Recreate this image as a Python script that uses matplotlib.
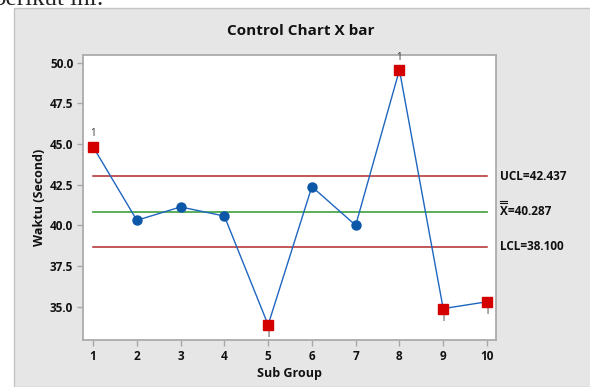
import matplotlib.pyplot as plt
from matplotlib.patches import Rectangle
from matplotlib.transforms import offset_copy

# data
subgroups = [1, 2, 3, 4, 5, 6, 7, 8, 9, 10]
waktu = [44.83, 40.31, 41.13, 40.57, 33.88, 42.38, 40.0, 49.55, 34.88, 35.3]
out_of_control = [1, 5, 8, 9, 10]

# control lines as drawn, and the labels printed next to them
ucl_line = 43.03
mean_line = 40.84
lcl_line = 38.67
ucl_text = 'UCL=42.437'
mean_text = 'X=40.287'
lcl_text = 'LCL=38.100'

plt.rcParams['font.family'] = ['Open Sans', 'DejaVu Sans']

fig = plt.figure(figsize=(5.9, 3.87), dpi=100)
fig.patch.set_facecolor('white')

# gray minitab panel
panel = Rectangle((13.5 / 590, 0), 1.0, (387 - 8) / 387, transform=fig.transFigure,
                  facecolor='#E6E6E6', edgecolor='#C4C4C4', linewidth=1.0, zorder=-10)
fig.patches.append(panel)

# bottom of the line of text above the figure (cut off in the source too)
fig.text(-0.012, 1 - 5 / 387, 'berikut ini:', fontsize=18, family='Liberation Serif',
         va='baseline', ha='left', color='#222222')

ax = fig.add_axes([83 / 590, 1 - 340 / 387, (495.7 - 83) / 590, (340 - 54.7) / 387])
ax.set_facecolor('white')

ax.plot([subgroups[0], subgroups[-1]], [ucl_line, ucl_line], color='#B02A2A', lw=1.1, zorder=2)
ax.plot([subgroups[0], subgroups[-1]], [lcl_line, lcl_line], color='#B02A2A', lw=1.1, zorder=2)
ax.plot([subgroups[0], subgroups[-1]], [mean_line, mean_line], color='#4DA84D', lw=1.3, zorder=2)

ax.plot(subgroups, waktu, color='#1F66BF', lw=1.0, zorder=3)
for x, y in zip(subgroups, waktu):
    if x in out_of_control:
        ax.plot(x, y, marker='s', ms=6.5, color='#D40000', mec='#D40000', zorder=4)
        if y > mean_line:
            ax.text(x, y + 0.45, '1', ha='center', va='bottom', fontsize=7, color='#333333')
        else:
            ax.text(x, y - 0.25, '1', ha='center', va='top', fontsize=7, color='#333333')
    else:
        ax.plot(x, y, marker='o', ms=6.5, color='#0C57A8', mec='#0C57A8', zorder=4)

ax.set_xlim(0.77, 10.2)
ax.set_ylim(32.95, 50.49)
ax.set_xticks(subgroups)
ax.set_yticks([35.0, 37.5, 40.0, 42.5, 45.0, 47.5, 50.0])
ax.set_yticklabels(['35.0', '37.5', '40.0', '42.5', '45.0', '47.5', '50.0'])
ax.tick_params(axis='both', direction='out', length=4, width=1, color='#A8A8A8',
               labelsize=8.5, labelcolor='#111111', pad=3)
for lab in ax.get_xticklabels() + ax.get_yticklabels():
    lab.set_fontweight('bold')
for s in ax.spines.values():
    s.set_color('#ABABAB')
    s.set_linewidth(1.3)

ax.set_xlabel('Sub Group', fontsize=9, fontweight='bold', color='#111111', labelpad=3)
ax.set_ylabel('Waktu (Second)', fontsize=9, fontweight='bold', color='#111111', labelpad=3)

# limit labels on the right
for yv, txt in [(ucl_line, ucl_text), (mean_line, mean_text), (lcl_line, lcl_text)]:
    ax.text(1.01, yv, txt, transform=ax.get_yaxis_transform(), ha='left', va='center',
            fontsize=8.5, fontweight='bold', color='#111111')
# double bar over the X of the mean label
for dy in (6.0, 7.6):
    tr = offset_copy(ax.get_yaxis_transform(), fig=fig, x=0, y=dy, units='points')
    ax.plot([1.0115, 1.0265], [mean_line, mean_line], transform=tr, color='#111111',
            lw=0.8, clip_on=False)

fig.text(301 / 590, 1 - 31 / 387, 'Control Chart X bar', ha='center', va='center',
         fontsize=11, fontweight='bold', color='#111111')

fig.savefig('out.png', dpi=100)
